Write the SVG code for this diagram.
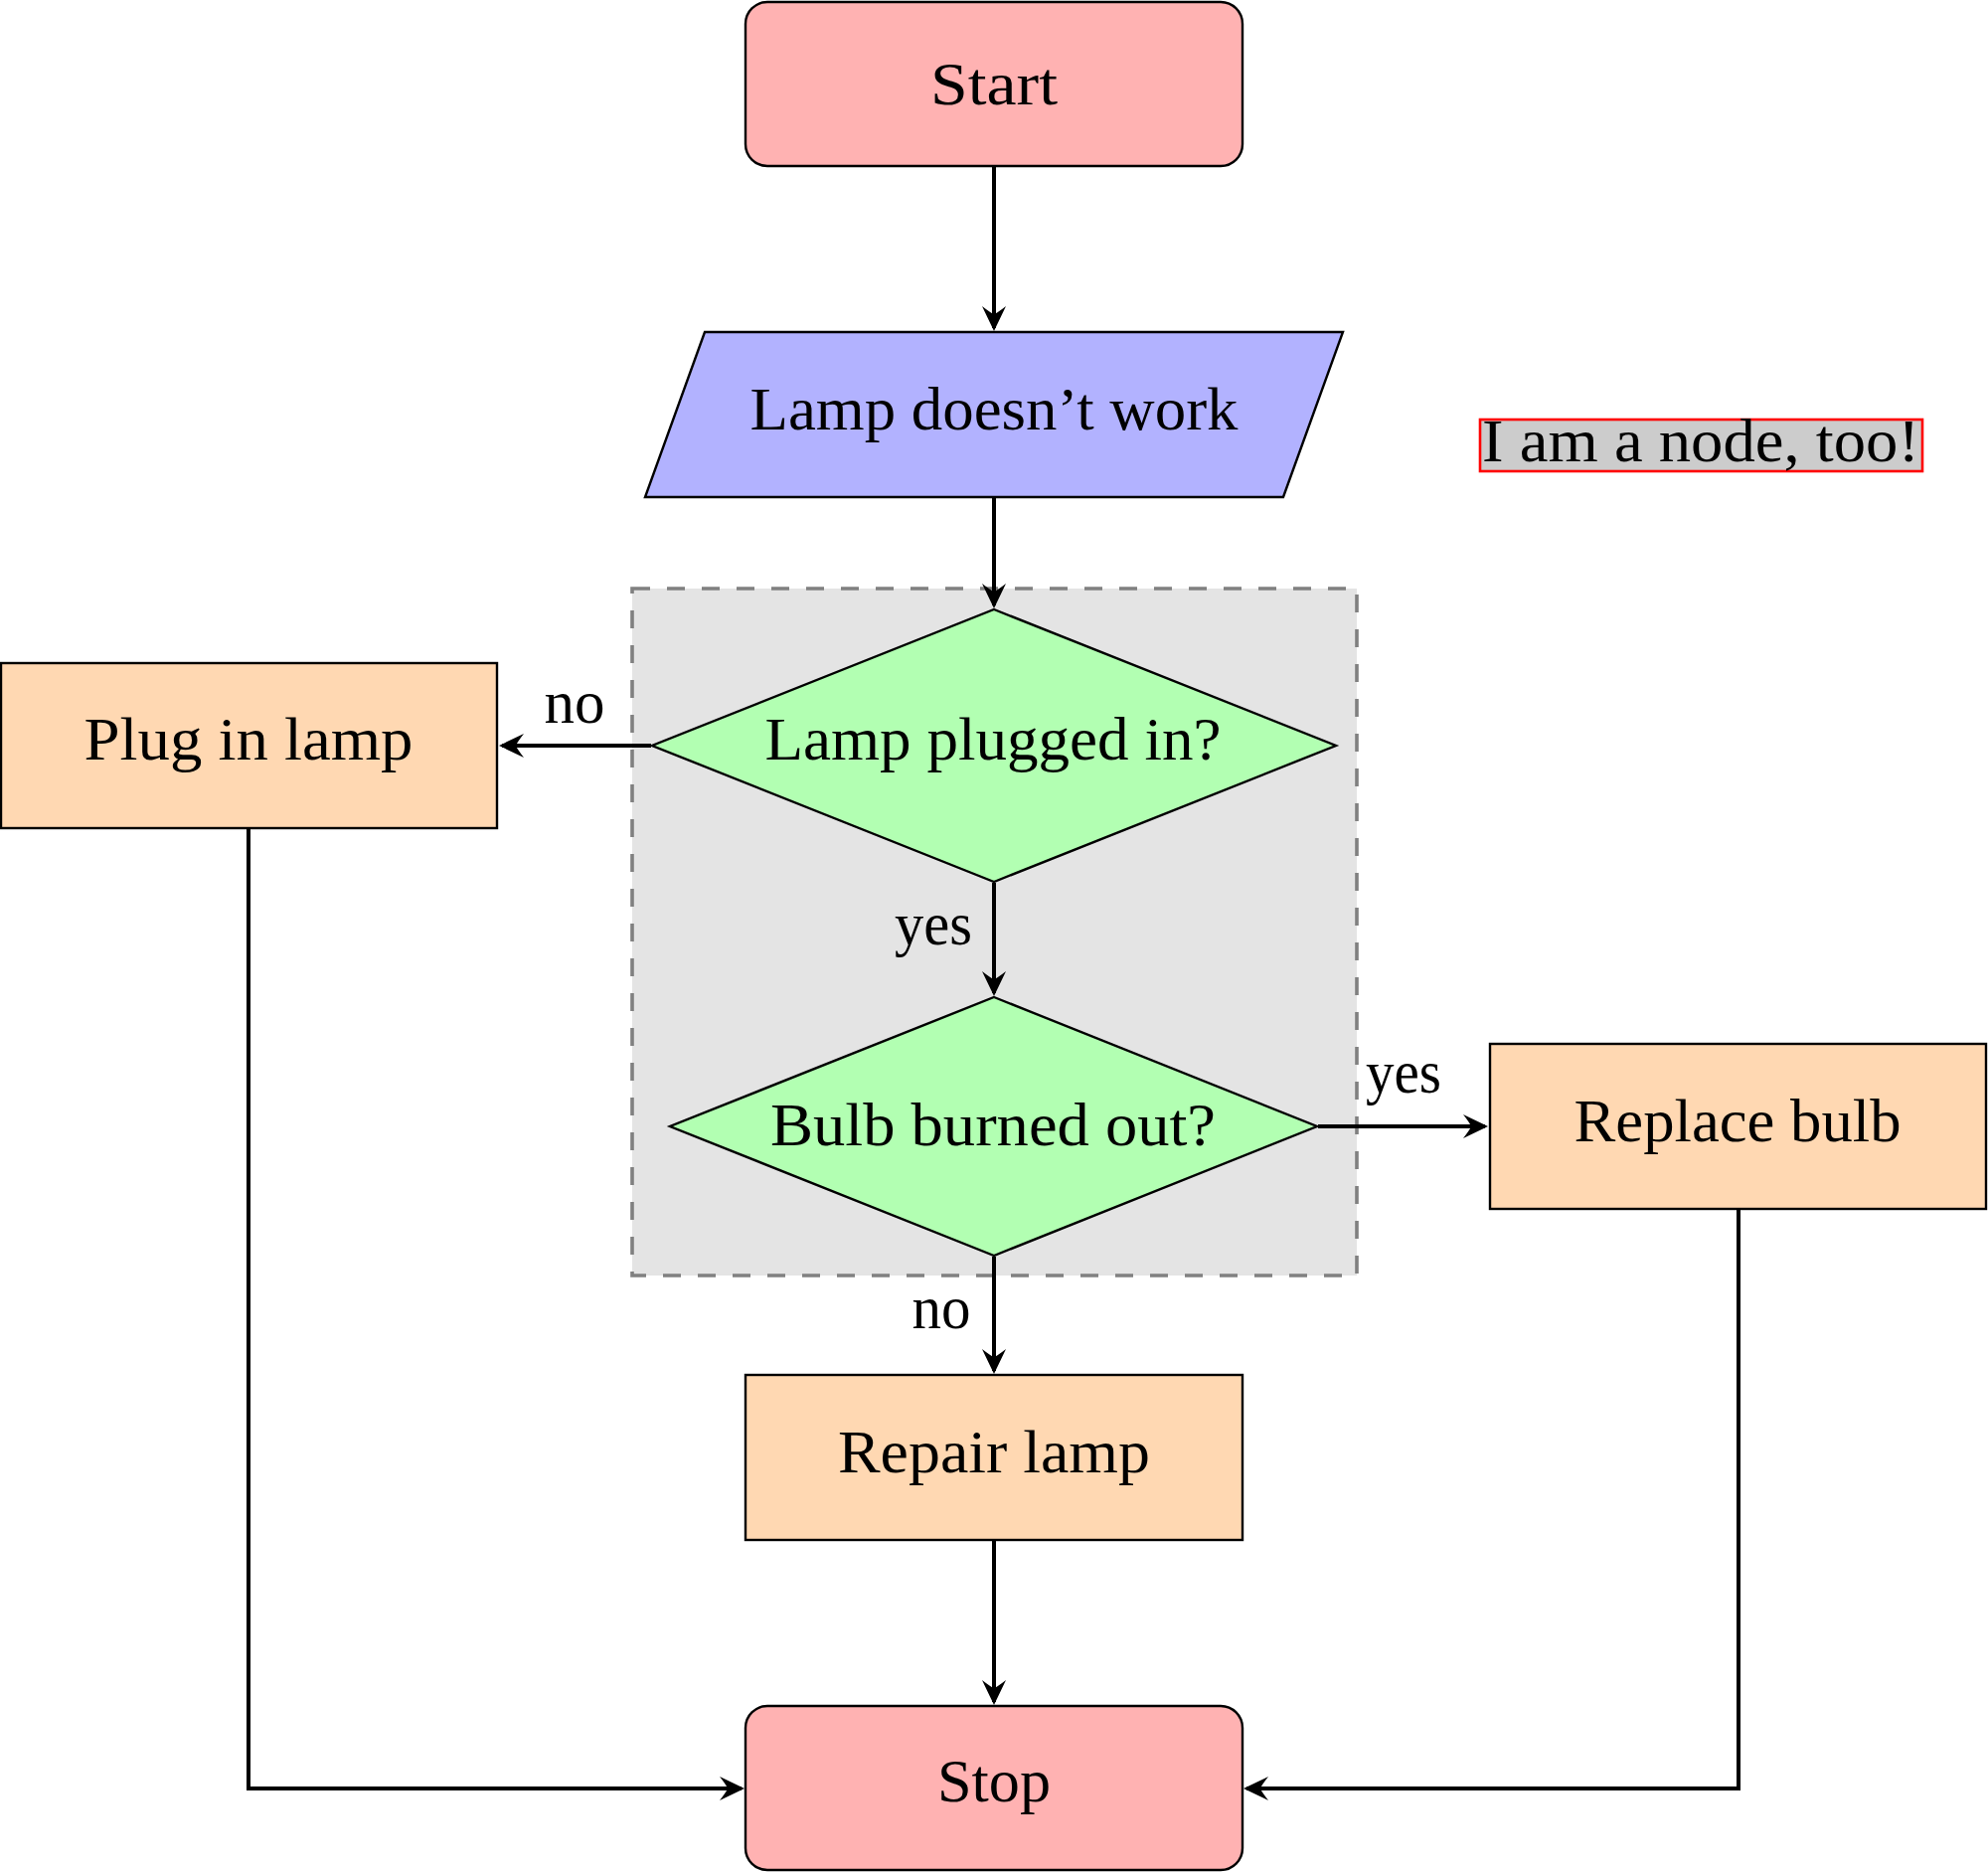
<svg xmlns="http://www.w3.org/2000/svg" width="2000" height="1883" viewBox="0 0 2000 1883">
  <style>
    .node { stroke: #000; stroke-width: 2.4; }
    .term { fill: #ffb2b2; }
    .io { fill: #b2b2ff; }
    .dec { fill: #b2ffb2; }
    .proc { fill: #ffd8b2; }
    text { font-family: "Liberation Serif", "DejaVu Serif", serif; font-size: 62px; fill: #000; text-anchor: middle; }
    .conn { fill: none; stroke: #000; stroke-width: 4; marker-end: url(#arr); }
  </style>
  <defs>
    <marker id="arr" markerUnits="userSpaceOnUse" markerWidth="40" markerHeight="40" viewBox="-30 -20 40 40" refX="0" refY="0" orient="auto" overflow="visible">
      <path d="M3,0 L-22,-12 Q-15,-3 -14,0 Q-15,3 -22,12 Z" fill="#000"/>
    </marker>
  </defs>
  <rect width="2000" height="1883" fill="#fff"/>

  <g id="group-background">
    <rect x="636" y="592" width="729" height="691" fill="#e4e4e4" stroke="#808080" stroke-width="3.6" stroke-dasharray="18 17"/>
  </g>

  <g id="start">
    <rect class="node term" x="750" y="2" width="500" height="165" rx="22" ry="22"/>
    <text x="1000" y="105" textLength="128" lengthAdjust="spacingAndGlyphs">Start</text>
  </g>
  <g id="lamp-doesnt-work">
    <polygon class="node io" points="709,334 1351,334 1291,500 649,500"/>
    <text x="1000" y="432" textLength="491" lengthAdjust="spacingAndGlyphs">Lamp doesn’t work</text>
  </g>
  <g id="note">
    <rect x="1489" y="422" width="445" height="52" fill="#cccccc" stroke="#ff0000" stroke-width="2.6"/>
    <text x="1711" y="464" textLength="440" lengthAdjust="spacingAndGlyphs">I am a node, too!</text>
  </g>
  <g id="lamp-plugged-in">
    <polygon class="node dec" points="1000,613 1344,750 1000,887 656,750"/>
    <text x="999" y="764" textLength="459" lengthAdjust="spacingAndGlyphs">Lamp plugged in?</text>
  </g>
  <g id="bulb-burned-out">
    <polygon class="node dec" points="1000,1003 1325,1133 1000,1263 674,1133"/>
    <text x="999" y="1152" textLength="448" lengthAdjust="spacingAndGlyphs">Bulb burned out?</text>
  </g>
  <g id="plug-in-lamp">
    <rect class="node proc" x="1" y="667" width="499" height="166"/>
    <text x="250" y="764" textLength="331" lengthAdjust="spacingAndGlyphs">Plug in lamp</text>
  </g>
  <g id="replace-bulb">
    <rect class="node proc" x="1499" y="1050" width="499" height="166"/>
    <text x="1748" y="1148" textLength="329" lengthAdjust="spacingAndGlyphs">Replace bulb</text>
  </g>
  <g id="repair-lamp">
    <rect class="node proc" x="750" y="1383" width="500" height="166"/>
    <text x="1000" y="1481" textLength="314" lengthAdjust="spacingAndGlyphs">Repair lamp</text>
  </g>
  <g id="stop">
    <rect class="node term" x="750" y="1716" width="500" height="165" rx="22" ry="22"/>
    <text x="1000" y="1812" textLength="114" lengthAdjust="spacingAndGlyphs">Stop</text>
  </g>

  <g id="connectors">
    <path class="conn" d="M1000,168 L1000,330"/>
    <path class="conn" d="M1000,501 L1000,609"/>
    <path class="conn" d="M655,750 L505,750"/>
    <path class="conn" d="M1000,888 L1000,999"/>
    <path class="conn" d="M1326,1133 L1494,1133"/>
    <path class="conn" d="M1000,1264 L1000,1379"/>
    <path class="conn" d="M1000,1550 L1000,1712"/>
    <path class="conn" d="M250,834 L250,1799 L746,1799"/>
    <path class="conn" d="M1749,1217 L1749,1799 L1254,1799"/>
    <text x="578" y="727" textLength="61" lengthAdjust="spacingAndGlyphs">no</text>
    <text x="939" y="950" textLength="78" lengthAdjust="spacingAndGlyphs">yes</text>
    <text x="1412" y="1099" textLength="76" lengthAdjust="spacingAndGlyphs">yes</text>
    <text x="947" y="1336" textLength="59" lengthAdjust="spacingAndGlyphs">no</text>
  </g>
</svg>
